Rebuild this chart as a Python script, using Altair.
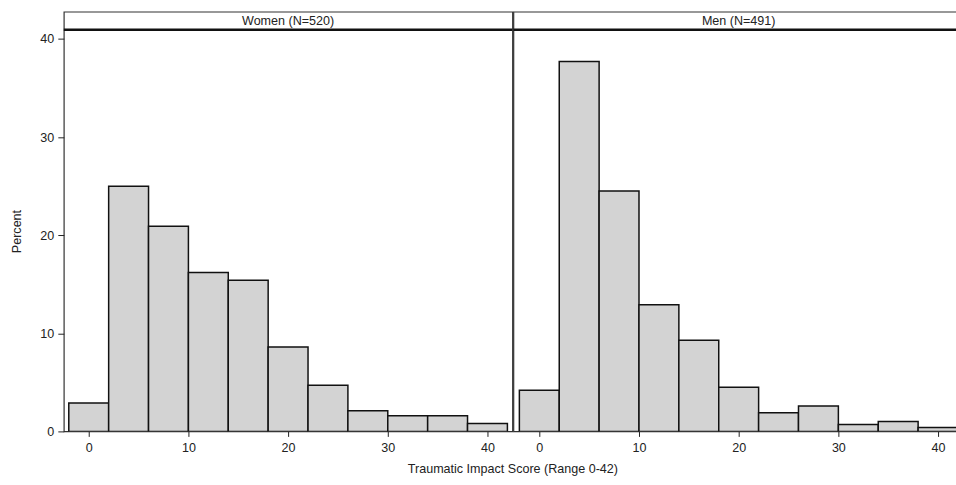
import altair as alt
import pandas as pd

# ---- data ----
bin_starts = [-2, 2, 6, 10, 14, 18, 22, 26, 30, 34, 38]
bin_ends = [2, 6, 10, 14, 18, 22, 26, 30, 34, 38, 42]
women_pct = [2.9, 25.0, 20.9, 16.2, 15.4, 8.6, 4.7, 2.1, 1.6, 1.6, 0.8]
men_pct = [4.2, 37.7, 24.5, 12.9, 9.3, 4.5, 1.9, 2.6, 0.7, 1.0, 0.4]
panel_titles = ["Women (N=520)", "Men (N=491)"]
x_ticks = [0, 10, 20, 30, 40]
y_ticks = [0, 10, 20, 30, 40]
x_title = "Traumatic Impact Score (Range 0-42)"
y_title = "Percent"

FONT = "Liberation Sans"
FS = 12.6
TXT = "#222222"
Y_DOMAIN = [0, 42.78]
HEADER_LINE = 40.95
HEADER_TEXT = 41.87
H = 421


def panel(pcts, title, xdomain, width, show_y, show_xtitle):
    df = pd.DataFrame({"start": bin_starts, "end": bin_ends, "pct": pcts})
    xscale = alt.Scale(domain=xdomain, nice=False, zero=False)
    yscale = alt.Scale(domain=Y_DOMAIN, nice=False, zero=False)
    if show_xtitle:
        xaxis = alt.Axis(
            values=x_ticks, grid=False, domain=False, tickSize=5, tickColor=TXT,
            tickWidth=1, labelPadding=5, labelFont=FONT, labelFontSize=FS,
            labelColor=TXT, title=x_title,
            titleFont=FONT, titleFontSize=FS, titleFontWeight="normal",
            titleColor=TXT, titleX=450, titleY=31, titleBaseline="top",
        )
    else:
        xaxis = alt.Axis(
            values=x_ticks, grid=False, domain=False, tickSize=5, tickColor=TXT,
            tickWidth=1, labelPadding=5, labelFont=FONT, labelFontSize=FS,
            labelColor=TXT, title=None,
        )
    if show_y:
        yaxis = alt.Axis(
            values=y_ticks, grid=False, domain=False, tickSize=6, tickColor=TXT,
            tickWidth=1, labelPadding=4, labelFont=FONT, labelFontSize=FS,
            labelColor=TXT, title=y_title, titleFont=FONT, titleFontSize=FS,
            titleFontWeight="normal", titleColor=TXT, titleX=-47, titleY=220,
            titleBaseline="middle", titleAngle=270,
        )
    else:
        yaxis = None
    bars = alt.Chart(df).mark_rect(
        fill="#d3d3d3", stroke="#111111", strokeWidth=1.5, clip=True
    ).encode(
        x=alt.X("start:Q", scale=xscale, axis=xaxis),
        x2="end:Q",
        y=alt.Y("pct:Q", scale=yscale, axis=yaxis),
        y2=alt.datum(0),
    )
    hdr = pd.DataFrame({"t": [title], "x": [20], "y": [HEADER_TEXT], "ly": [HEADER_LINE]})
    rule = alt.Chart(hdr).mark_rule(color="#111111", strokeWidth=2.5).encode(
        y=alt.Y("ly:Q", scale=yscale),
    )
    text = alt.Chart(hdr).mark_text(
        font=FONT, fontSize=FS, color=TXT, align="center", baseline="middle"
    ).encode(
        x=alt.X("x:Q", scale=xscale),
        y=alt.Y("y:Q", scale=yscale),
        text="t:N",
    )
    return alt.layer(bars, rule, text).properties(width=width, height=H)


left = panel(women_pct, panel_titles[0], [-2.5, 42.5], 450, True, True)
right = panel(men_pct, panel_titles[1], [-2.6, 42.4], 450, False, False)

chart = alt.hconcat(left, right, spacing=1, bounds="flush").resolve_scale(
    x="independent", y="independent"
).properties(
    padding={"left": 10, "top": 10, "right": -8, "bottom": 4},
    background="white",
).configure_view(stroke="#333333", strokeWidth=1.2)

chart.save("out.html", embed_options={"renderer": "svg", "actions": False})
